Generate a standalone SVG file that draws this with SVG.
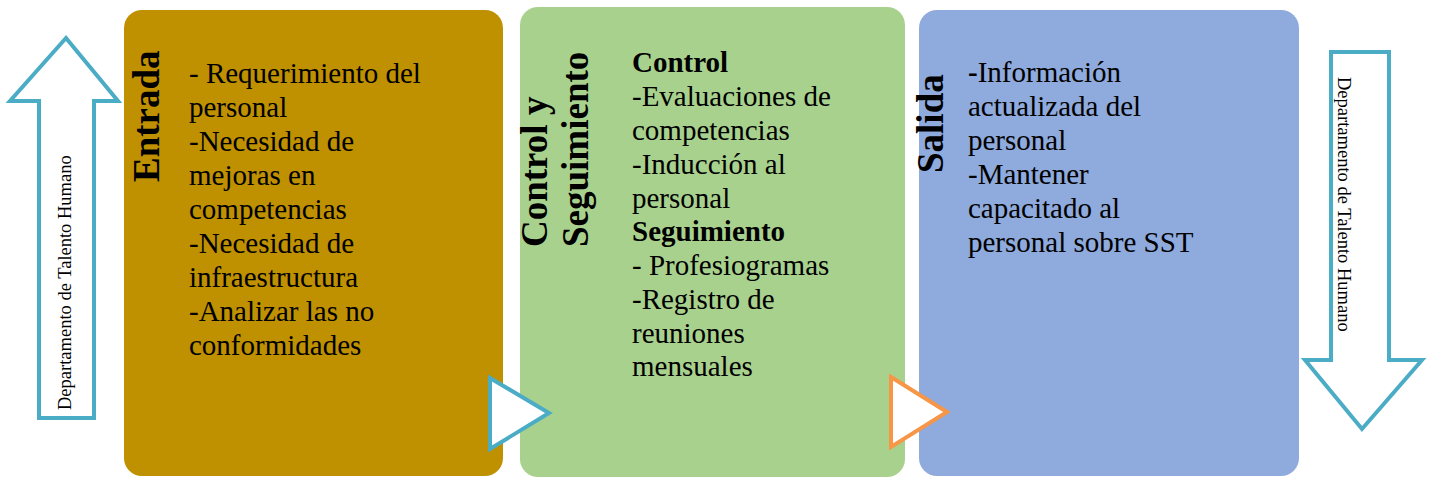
<svg xmlns="http://www.w3.org/2000/svg" width="1429" height="477" viewBox="0 0 1429 477">
<style>
.body{font-family:"Liberation Serif","Times New Roman",serif;font-size:29px;fill:#000}
.title{font-family:"Liberation Serif","Times New Roman",serif;font-size:37px;font-weight:bold;fill:#000}
.side{font-family:"Liberation Serif","Times New Roman",serif;font-size:18.5px;fill:#000}
.arrow{fill:#fff;stroke:#4bacc6;stroke-width:4;stroke-linejoin:miter}
.b{font-weight:bold}
</style>
<rect width="1429" height="477" fill="#fff"/>
<g id="arrow-up">
<polygon class="arrow" points="66,38 118,101 94,101 94,418 39,418 39,101 10,101"/>
<text class="side" transform="translate(71,410) rotate(-90)">Departamento de Talento Humano</text>
</g>
<g id="entrada">
<rect x="124" y="10" width="379" height="466" rx="18" fill="#bf9000"/>
<text class="title" transform="translate(159,182) rotate(-90)">Entrada</text>
<text class="body">
<tspan x="189" y="83">- Requerimiento del</tspan>
<tspan x="189" y="117">personal</tspan>
<tspan x="189" y="151">-Necesidad de</tspan>
<tspan x="189" y="185">mejoras en</tspan>
<tspan x="189" y="219">competencias</tspan>
<tspan x="189" y="253">-Necesidad de</tspan>
<tspan x="189" y="287">infraestructura</tspan>
<tspan x="189" y="321">-Analizar las no</tspan>
<tspan x="189" y="355">conformidades</tspan>
</text>
</g>
<g id="control">
<rect x="520" y="7" width="385" height="470" rx="18" fill="#a9d18e"/>
<text class="title" transform="translate(547,247) rotate(-90)">Control y</text>
<text class="title" transform="translate(588,247) rotate(-90)">Seguimiento</text>
<text class="body">
<tspan x="632" y="72" class="b">Control</tspan>
<tspan x="632" y="106">-Evaluaciones de</tspan>
<tspan x="632" y="140">competencias</tspan>
<tspan x="632" y="174">-Inducción al</tspan>
<tspan x="632" y="208">personal</tspan>
<tspan x="632" y="241" class="b">Seguimiento</tspan>
<tspan x="632" y="275">- Profesiogramas</tspan>
<tspan x="632" y="309">-Registro de</tspan>
<tspan x="632" y="343">reuniones</tspan>
<tspan x="632" y="376">mensuales</tspan>
</text>
</g>
<g id="salida">
<rect x="919" y="10" width="380" height="466" rx="18" fill="#8faadc"/>
<text class="title" transform="translate(943,173) rotate(-90)">Salida</text>
<text class="body">
<tspan x="968" y="82"><tspan class="b">-</tspan>Información</tspan>
<tspan x="968" y="116">actualizada del</tspan>
<tspan x="968" y="150">personal</tspan>
<tspan x="968" y="184">-Mantener</tspan>
<tspan x="968" y="218">capacitado al</tspan>
<tspan x="968" y="252">personal sobre SST</tspan>
</text>
</g>
<g id="arrow-down">
<polygon class="arrow" points="1331,52 1389,52 1389,360 1422,360 1362,429 1305,360 1331,360"/>
<text class="side" transform="translate(1338,77) rotate(90)">Departamento de Talento Humano</text>
</g>
<g id="connectors">
<polygon points="490,378 549,413 490,449" fill="#fff" stroke="#4bacc6" stroke-width="4"/>
<polygon points="891,377 947,412 891,447" fill="#fff" stroke="#f79646" stroke-width="4"/>
</g>
</svg>
